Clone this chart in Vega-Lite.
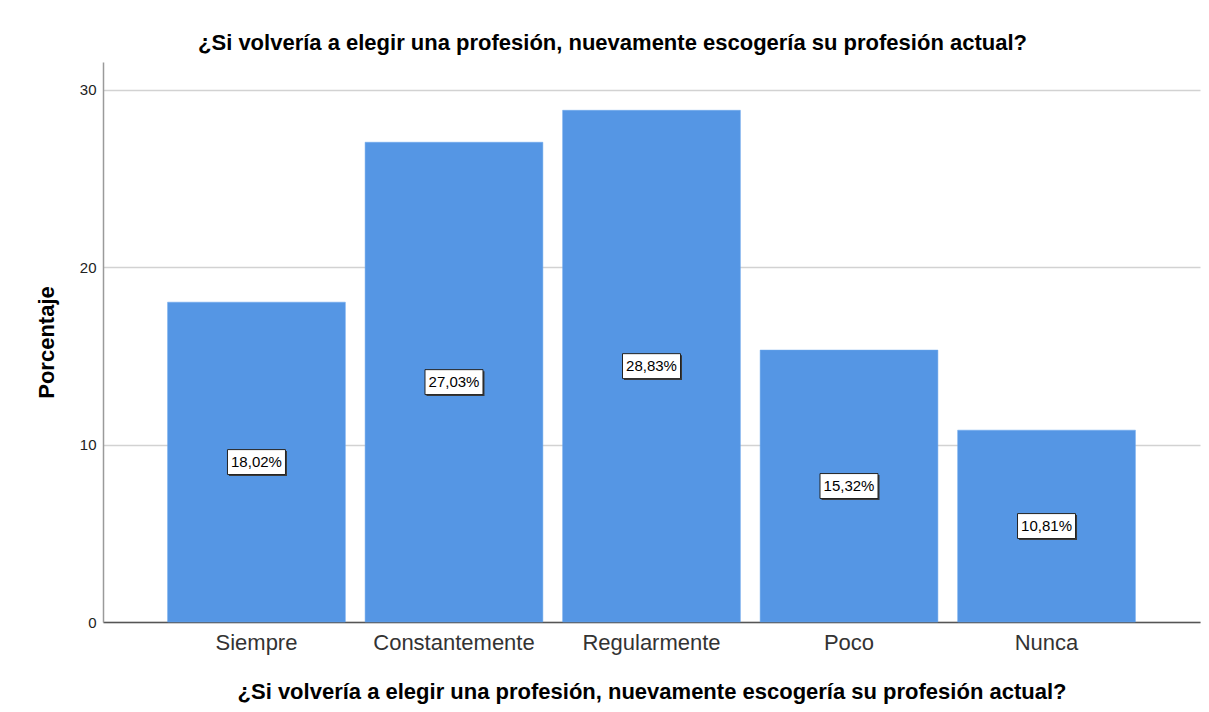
{
  "$schema": "https://vega.github.io/schema/vega-lite/v6.json",
  "width": 1097,
  "height": 560,
  "autosize": {"type": "none"},
  "padding": {"left": 103, "top": 62, "right": 9, "bottom": 90},
  "background": "white",
  "config": {
    "font": "Liberation Sans",
    "view": {"stroke": null}
  },
  "title": {
    "text": "¿Si volvería a elegir una profesión, nuevamente escogería su profesión actual?",
    "font": "Liberation Sans",
    "fontSize": 22,
    "fontWeight": "bold",
    "color": "#000000",
    "anchor": "middle",
    "baseline": "alphabetic",
    "offset": -10,
    "dx": -39
  },
  "data": {
    "values": [
      {"categoria": "Siempre", "porcentaje": 18.02, "etiqueta": "18,02%"},
      {"categoria": "Constantemente", "porcentaje": 27.03, "etiqueta": "27,03%"},
      {"categoria": "Regularmente", "porcentaje": 28.83, "etiqueta": "28,83%"},
      {"categoria": "Poco", "porcentaje": 15.32, "etiqueta": "15,32%"},
      {"categoria": "Nunca", "porcentaje": 10.81, "etiqueta": "10,81%"}
    ]
  },
  "encoding": {
    "x": {
      "field": "categoria",
      "type": "nominal",
      "sort": null,
      "scale": {"paddingInner": 0.1, "paddingOuter": 0.327},
      "axis": {
        "title": "¿Si volvería a elegir una profesión, nuevamente escogería su profesión actual?",
        "titleFont": "Liberation Sans",
        "titleFontSize": 22,
        "titleFontWeight": "bold",
        "titleColor": "#000000",
        "titlePadding": 28,
        "labelAngle": 0,
        "labelFont": "Liberation Sans",
        "labelFontSize": 22,
        "labelColor": "#333333",
        "labelPadding": 10,
        "ticks": false,
        "domainColor": "#555555",
        "domainWidth": 1.5,
        "grid": false
      }
    }
  },
  "layer": [
    {
      "mark": {"type": "bar", "color": "#5596E4", "stroke": "#6aa6ec", "strokeWidth": 0.5},
      "encoding": {
        "y": {
          "field": "porcentaje",
          "type": "quantitative",
          "scale": {"domain": [0, 31.55], "nice": false},
          "axis": {
            "title": "Porcentaje",
            "titleFont": "Liberation Sans",
            "titleFontSize": 22,
            "titleFontWeight": "bold",
            "titleColor": "#000000",
            "titlePadding": 21,
            "values": [0, 10, 20, 30],
            "labelFont": "Liberation Sans",
            "labelFontSize": 15,
            "labelColor": "#222222",
            "labelPadding": 7,
            "ticks": false,
            "domainColor": "#9a9a9a",
            "domainWidth": 1.5,
            "gridColor": "#d2d2d2",
            "gridWidth": 1.5
          }
        }
      }
    },
    {
      "transform": [{"calculate": "datum.porcentaje / 2", "as": "mitad"}],
      "mark": {
        "type": "point",
        "shape": "M-1,-0.43L1,-0.43L1,0.43L-1,0.43Z",
        "size": 3364,
        "filled": true,
        "fill": "#3a3a3a",
        "opacity": 1,
        "xOffset": 1.5,
        "yOffset": 1.5
      },
      "encoding": {
        "y": {"field": "mitad", "type": "quantitative"}
      }
    },
    {
      "transform": [{"calculate": "datum.porcentaje / 2", "as": "mitad"}],
      "mark": {
        "type": "point",
        "shape": "M-1,-0.43L1,-0.43L1,0.43L-1,0.43Z",
        "size": 3364,
        "filled": true,
        "fill": "#ffffff",
        "stroke": "#222222",
        "strokeWidth": 1,
        "opacity": 1
      },
      "encoding": {
        "y": {"field": "mitad", "type": "quantitative"}
      }
    },
    {
      "transform": [{"calculate": "datum.porcentaje / 2", "as": "mitad"}],
      "mark": {
        "type": "text",
        "font": "Liberation Sans",
        "fontSize": 15,
        "color": "#000000",
        "baseline": "middle",
        "align": "center"
      },
      "encoding": {
        "y": {"field": "mitad", "type": "quantitative"},
        "text": {"field": "etiqueta", "type": "nominal"}
      }
    }
  ]
}
